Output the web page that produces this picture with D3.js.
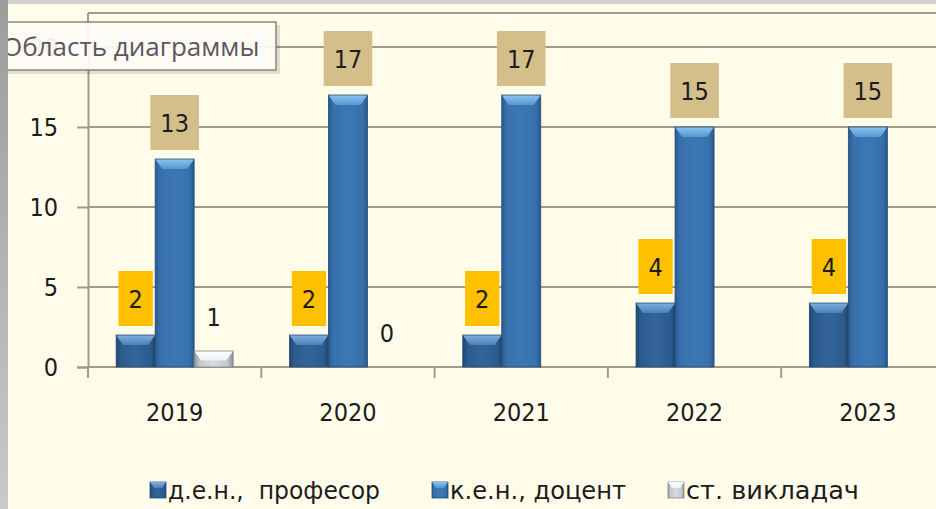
<!DOCTYPE html>
<html>
<head>
<meta charset="utf-8">
<script src="https://cdn.jsdelivr.net/npm/d3@7"></script>
<style>
  body { margin: 0; background: #fffdea; }
  svg { display: block; }
  text { font-family: "DejaVu Sans Condensed", "DejaVu Sans", sans-serif; fill: #1c1c1c; }
</style>
</head>
<body>
<div id="chart"></div>
<script>
const years = ["2019", "2020", "2021", "2022", "2023"];
const seriesNames = ["д.е.н.,  професор", "к.е.н., доцент", "ст. викладач"];
const professors = [2, 2, 2, 4, 4];
const docents = [13, 17, 17, 15, 15];
const lecturers = [1, 0, null, null, null];
const yTicks = [0, 5, 10, 15, 20];

const svgWidth = 936;
const svgHeight = 509;
const left = 88, base = 367, top20 = 47, band = 173.3;
const gridCol = "#a39a89";

let svg = d3.select("#chart").append("svg").attr("width", svgWidth).attr("height", svgHeight);
let defs = svg.append("defs");

let hgrad = (id, stops) => {
  let g = defs.append("linearGradient").attr("id", id).attr("x1", 0).attr("x2", 1).attr("y1", 0).attr("y2", 0);
  stops.forEach(s => g.append("stop").attr("offset", s[0]).attr("stop-color", s[1]));
}
let vgrad = (id, stops) => {
  let g = defs.append("linearGradient").attr("id", id).attr("x1", 0).attr("x2", 0).attr("y1", 0).attr("y2", 1);
  stops.forEach(s => g.append("stop").attr("offset", s[0]).attr("stop-color", s[1]));
}
hgrad("b0", [[0, "#1f466f"], [0.12, "#2c5b8d"], [0.5, "#33659b"], [0.88, "#2c5b8d"], [1, "#1f456e"]]);
hgrad("b1", [[0, "#2a5a8e"], [0.12, "#3770ab"], [0.5, "#3c77b6"], [0.88, "#3770ab"], [1, "#28578a"]]);
hgrad("b2", [[0, "#8e949e"], [0.15, "#c4c8cf"], [0.5, "#d8dbe0"], [0.85, "#c4c8cf"], [1, "#8a909a"]]);
vgrad("t0", [[0, "#7fb0df"], [1, "#4a80b8"]]);
vgrad("t1", [[0, "#8cc3f0"], [1, "#5596d3"]]);
vgrad("t2", [[0, "#ffffff"], [1, "#eef0f4"]]);
vgrad("lg", [[0, "#9c9c9c"], [1, "#c9c9c9"]]);

let x = d3.scaleBand().domain(years).range([left, left + band * years.length]);
let xs = d3.scaleBand().domain([0, 1, 2]).range([(band - 117) / 2, (band + 117) / 2]);
let y = d3.scaleLinear().domain([0, 20]).range([base, top20]);

// plot frame top line and grid
svg.append("line").attr("x1", left).attr("x2", svgWidth).attr("y1", 13).attr("y2", 13)
  .attr("stroke", gridCol).attr("stroke-width", 2);
svg.append("line").attr("x1", left).attr("x2", left).attr("y1", 13).attr("y2", top20)
  .attr("stroke", gridCol).attr("stroke-width", 2);
svg.append("g").selectAll("line").data(yTicks.slice(1)).enter().append("line")
  .attr("x1", left).attr("x2", svgWidth)
  .attr("y1", d => y(d)).attr("y2", d => y(d))
  .attr("stroke", gridCol).attr("stroke-width", 2);

// y axis
let yAxis = svg.append("g").attr("transform", `translate(${left},0)`)
  .call(d3.axisLeft(y).tickValues(yTicks).tickSize(11).tickPadding(19));
yAxis.select(".domain").attr("stroke", gridCol).attr("stroke-width", 2);
yAxis.selectAll(".tick line").attr("stroke", gridCol).attr("stroke-width", 2);
yAxis.selectAll(".tick text").attr("font-size", 25).attr("font-family", null).attr("fill", "#1c1c1c");

// x axis: line, boundary ticks, labels
svg.append("line").attr("x1", left).attr("x2", svgWidth).attr("y1", base).attr("y2", base)
  .attr("stroke", gridCol).attr("stroke-width", 2);
svg.append("g").selectAll("line").data(years).enter().append("line")
  .attr("x1", d => x(d)).attr("x2", d => x(d))
  .attr("y1", base).attr("y2", base + 11)
  .attr("stroke", gridCol).attr("stroke-width", 2);
svg.append("g").selectAll("text").data(years).enter().append("text")
  .attr("x", d => x(d) + x.bandwidth() / 2)
  .attr("y", 421)
  .attr("text-anchor", "middle")
  .attr("font-size", 25)
  .text(d => d);

// bars
let series = [professors, docents, lecturers];
let boxFill = ["#ffc000", "#d4bf8b", null];
let bars = svg.append("g");
let lbls = svg.append("g");
series.forEach((vals, si) => {
  years.forEach((yr, i) => {
    let v = vals[i];
    if (v == null) return;
    let bx = x(yr) + xs(si);
    let bw = xs.bandwidth();
    let cx = bx + bw / 2;
    if (v > 0) {
      let ty = y(v);
      bars.append("rect").attr("x", bx).attr("y", ty).attr("width", bw).attr("height", base - ty)
        .attr("fill", `url(#b${si})`);
      let bev = Math.min(10, (base - ty) * 0.6);
      bars.append("path")
        .attr("d", `M${bx},${ty}L${bx + bw},${ty}L${bx + bw - 7},${ty + bev}L${bx + 7},${ty + bev}Z`)
        .attr("fill", `url(#t${si})`);
      bars.append("rect").attr("x", bx).attr("y", ty).attr("width", bw).attr("height", base - ty)
        .attr("fill", "none").attr("stroke", si == 2 ? "#80868f" : "#234b78").attr("stroke-width", 0.8);
    }
    if (boxFill[si]) {
      let t = lbls.append("text").attr("x", cx).attr("y", y(v) - 9 - 27.5 + 9)
        .attr("text-anchor", "middle").attr("font-size", 25).text(v);
      let w = t.node().getComputedTextLength() + 20;
      lbls.insert("rect", "text").attr("x", cx - w / 2).attr("y", y(v) - 9 - 55)
        .attr("width", w).attr("height", 55).attr("fill", boxFill[si]);
    } else {
      lbls.append("text").attr("x", cx).attr("y", y(v) - 25)
        .attr("text-anchor", "middle").attr("font-size", 25).text(v);
    }
  });
});

// legend
let legX = [150, 432, 668];
let legW = [212, 176, 173];
let leg = svg.append("g");
seriesNames.forEach((name, i) => {
  leg.append("rect").attr("x", legX[i]).attr("y", 482).attr("width", 16).attr("height", 16)
    .attr("fill", `url(#b${i})`).attr("stroke", i == 2 ? "#80868f" : "#234b78").attr("stroke-width", 0.8);
  leg.append("path")
    .attr("d", `M${legX[i]},482L${legX[i] + 16},482L${legX[i] + 12},488L${legX[i] + 4},488Z`)
    .attr("fill", `url(#t${i})`);
  leg.append("text").attr("x", legX[i] + 18).attr("y", 499).attr("font-size", 25)
    .attr("textLength", legW[i]).attr("lengthAdjust", "spacingAndGlyphs")
    .style("white-space", "pre").text(name);
});

// hover tip box (screenshot artefact)
let tip = svg.append("g");
tip.append("rect").attr("x", -4).attr("y", 25).attr("width", 284).attr("height", 49)
  .attr("fill", "#000").attr("opacity", 0.12);
tip.append("rect").attr("x", -2).attr("y", 22).attr("width", 278).attr("height", 48)
  .attr("fill", "#fffef6").attr("fill-opacity", 0.93).attr("stroke", "#8d8577").attr("stroke-width", 1.5);
tip.append("text").attr("x", 2).attr("y", 56).attr("font-size", 26)
  .style("font-family", "'Open Sans', sans-serif").style("fill", "#5e5560")
  .text("Область диаграммы");

// window edges
svg.append("rect").attr("x", 0).attr("y", 0).attr("width", svgWidth).attr("height", 4).attr("fill", "#cfcfcf");
svg.append("rect").attr("x", 0).attr("y", 0).attr("width", 8).attr("height", svgHeight).attr("fill", "url(#lg)");
</script>
</body>
</html>
